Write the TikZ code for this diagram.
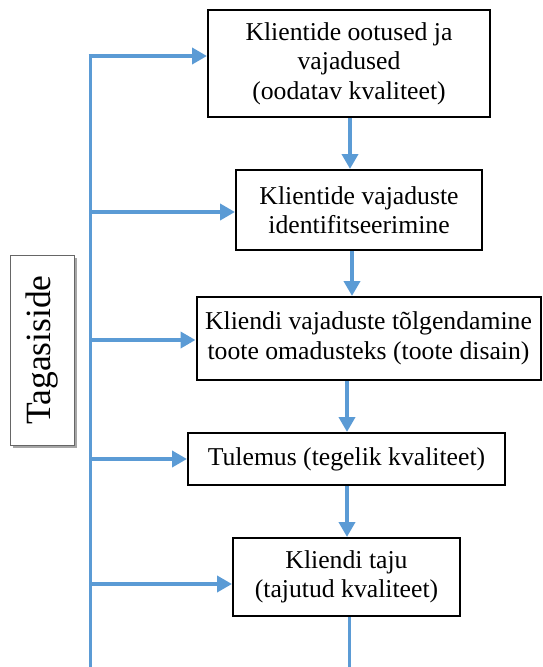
\documentclass[tikz,border=0pt]{standalone}
\usepackage{fontspec}
\setmainfont{Liberation Serif}
\usetikzlibrary{arrows.meta,shadows}
\definecolor{blu}{RGB}{91,155,213}
\begin{document}
\begin{tikzpicture}[x=1pt,y=-1pt,
  box/.style={draw=black, line width=2pt, fill=white, inner sep=0pt, align=center,
    font=\fontsize{25.7}{29.5}\selectfont},
  flow/.style={draw=blu, line width=4pt, -{Triangle[length=15pt,width=16pt]}},
  fb/.style={draw=blu, line width=3pt}]
\useasboundingbox (0,0) rectangle (542,667);
\node[box, minimum width=282pt, minimum height=107pt] (b1) at (349,63.5)
  {Klientide ootused ja\\vajadused\\ (oodatav kvaliteet)};
\node[box, minimum width=246pt, minimum height=80pt] (b2) at (359,210)
  {Klientide vajaduste\\identifitseerimine};
\node[box, minimum width=344pt, minimum height=83pt] (b3) at (368.5,338.5)
  {Kliendi vajaduste tõlgendamine\\toote omadusteks (toote disain)};
\node[box, minimum width=317pt, minimum height=52pt] (b4) at (346.5,459)
  {Tulemus (tegelik kvaliteet)};
\node[box, minimum width=227pt, minimum height=78pt] (b5) at (346.5,577)
  {Kliendi taju\\(tajutud kvaliteet)};
\node[draw=black!60, line width=1pt, fill=white,
  drop shadow={shadow xshift=2.5pt, shadow yshift=-2.5pt, fill=black!35, opacity=1},
  minimum width=64pt, minimum height=190pt, inner sep=0pt,
  font=\fontsize{35.5}{40}\selectfont] (tg) at (42,350) {\rotatebox{90}{Tagasiside}};
% vertical flow arrows
\coordinate (a1) at (350,0);
\coordinate (a2) at (352,0);
\coordinate (a3) at (347,0);
\coordinate (a4) at (347,0);
\coordinate (a5) at (349,0);
\coordinate (bend) at (349,667);
\draw[flow] (b1.south -| a1) -- (b2.north -| a1);
\draw[flow] (b2.south -| a2) -- (b3.north -| a2);
\draw[flow] (b3.south -| a3) -- (b4.north -| a3);
\draw[flow] (b4.south -| a4) -- (b5.north -| a4);
\draw[fb] (b5.south -| a5) -- (bend);
% feedback line
\coordinate (f1) at (90,56);
\coordinate (f2) at (90,212);
\coordinate (f3) at (90,340);
\coordinate (f4) at (90,459);
\coordinate (f5) at (90,584);
\coordinate (fbot) at (90,667);
\draw[fb] ([yshift=1.5pt]f1) -- (fbot);
\draw[flow] ([xshift=-1.5pt]f1) -- (f1 -| b1.west);
\draw[flow] (f2) -- (f2 -| b2.west);
\draw[flow] (f3) -- (f3 -| b3.west);
\draw[flow] (f4) -- (f4 -| b4.west);
\draw[flow] (f5) -- (f5 -| b5.west);
\end{tikzpicture}
\end{document}
